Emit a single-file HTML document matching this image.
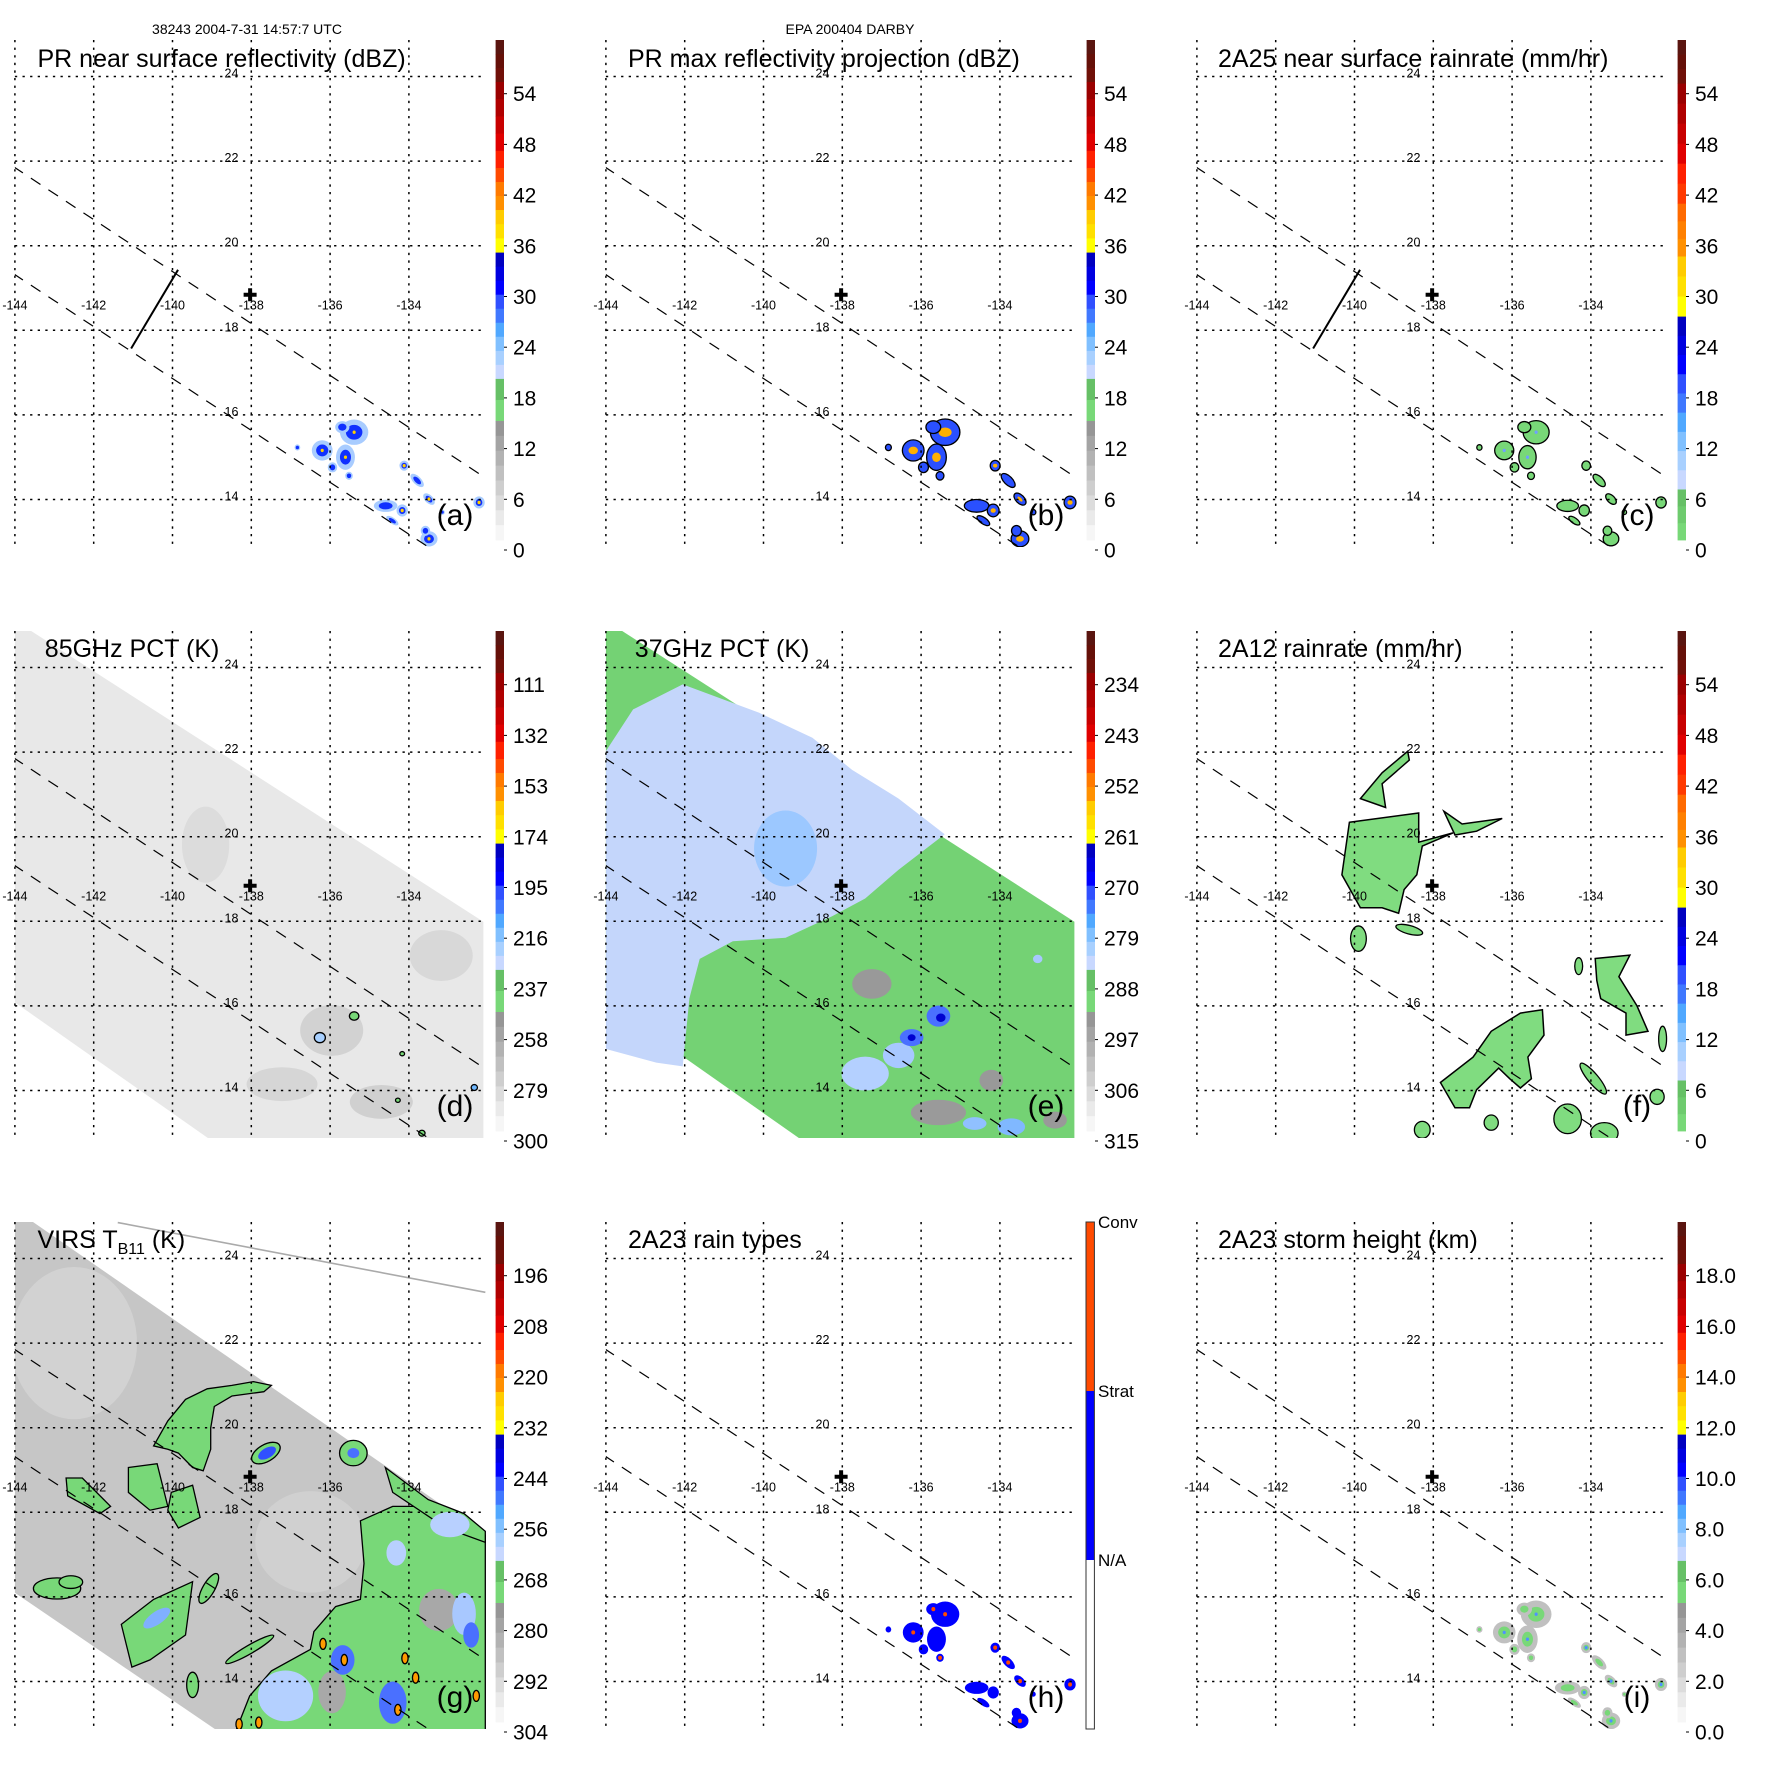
<!DOCTYPE html>
<html><head><meta charset="utf-8"><style>
html,body{margin:0;padding:0;background:#fff;}
svg{display:block;font-family:"Liberation Sans",sans-serif;}
</style></head><body>
<svg id="fig" xmlns="http://www.w3.org/2000/svg" width="1771" height="1771" viewBox="0 0 1771 1771">
<text x="247" y="34" font-size="14" text-anchor="middle">38243 2004-7-31 14:57:7 UTC</text>
<text x="850" y="34" font-size="14" text-anchor="middle">EPA 200404 DARBY</text>
</svg>
<script>
// ---------- data ----------
const gridLons = [-144,-142,-140,-138,-136,-134];
const gridLats = [24,22,20,18,16,14];
const lonTickLabels = ['-144','-142','-140','-138','-136','-134'];
const latTickLabels = ['24','22','20','18','16','14'];
const centerLon = -138.03, centerLat = 18.84;
const swathUpper = [[-144.04,21.87],[-132.04,14.5]];
const swathLower = [[-144.04,19.34],[-131.9,11.89]];
const crossSection = [[-139.86,19.43],[-141.05,17.57]];
const labelsDbz = ['0','6','12','18','24','30','36','42','48','54'];
const labels85 = ['300','279','258','237','216','195','174','153','132','111'];
const labels37 = ['315','306','297','288','279','270','261','252','243','234'];
const labelsVirs = ['304','292','280','268','256','244','232','220','208','196'];
const labelsHeight = ['0.0','2.0','4.0','6.0','8.0','10.0','12.0','14.0','16.0','18.0'];
const labelsType = ['Conv','Strat','N/A'];
// PR cluster positions (lon, lat, rx, ry in degrees, rotation)
const prLon = [-136.2,-135.39,-135.61,-135.69,-135.94,-135.52,-134.12,-133.79,-133.49,-134.59,-134.17,-133.49,-133.58,-132.22,-134.42,-136.83,-133.15];
const prLat = [15.16,15.59,15.0,15.71,14.76,14.56,14.8,14.45,14.01,13.85,13.74,13.07,13.26,13.93,13.5,15.23,13.7];
const prRx  = [0.22,0.3,0.2,0.15,0.1,0.08,0.1,0.18,0.15,0.25,0.12,0.18,0.1,0.12,0.15,0.06,0.05];
const prRy  = [0.2,0.25,0.25,0.12,0.1,0.08,0.1,0.08,0.08,0.12,0.12,0.15,0.1,0.12,0.06,0.06,0.05];
const prRot = [0,0,0,0,0,0,0,45,45,0,0,0,0,0,35,0,0];
const prCore = [1,1,1,0,0,0,1,0,1,0,1,1,0,1,0,0,0];
const prConv = [1,1,0,1,0,1,1,1,1,0,0,1,0,1,0,0,0];
// TMI and VIRS swath outlines
const tmiSwath = [[-144.07,24.9],[-143.65,24.9],[-132.11,17.99],[-132.11,12.6],[-138.68,12.6],[-144.07,16.13]];
const virsSwath = [[-144.02,24.9],[-143.6,24.9],[-132.06,17.46],[-132.06,12.6],[-138.49,12.6],[-144.02,16.11]];
const virsEdgeLine = [[-141.39,24.85],[-132.06,23.2]];
// panel (d) 85 GHz shading [lon,lat,rx,ry,color]
const pct85Shade = [[-135.96,15.42,0.8,0.6,'#d2d2d2'],[-133.18,17.19,0.8,0.6,'#d8d8d8'],[-139.16,19.81,0.6,0.9,'#dcdcdc'],[-134.7,13.73,0.8,0.4,'#d0d0d0'],[-137.22,14.15,0.9,0.4,'#d6d6d6']];
const pct85Cells = [[-136.26,15.25,0.14,0.12,'#a8d0ff'],[-135.39,15.76,0.12,0.1,'#78d878'],[-134.17,14.87,0.06,0.05,'#78d878'],[-134.28,13.77,0.06,0.05,'#78d878'],[-132.34,14.07,0.08,0.07,'#6fb8ff'],[-133.67,12.99,0.08,0.07,'#78d878']];
// panel (e) 37 GHz
const pct37Cool = [[-144.07,21.92],[-143.31,23.01],[-142.05,23.6],[-140.11,22.93],[-138.76,22.34],[-137.75,21.58],[-136.57,20.9],[-135.4,20.06],[-136.57,19.22],[-137.42,18.54],[-138.26,18.12],[-139.44,17.61],[-140.78,17.53],[-141.62,17.11],[-141.88,16.18],[-142.05,14.57],[-142.72,14.66],[-144.07,15.0]];
const pct37Spots = [[-139.44,19.72,0.8,0.9,'#9cc8ff'],[-137.25,16.52,0.5,0.35,'#999999'],[-135.56,13.48,0.7,0.3,'#9a9a9a'],[-134.22,14.24,0.3,0.25,'#999999'],[-132.6,13.3,0.3,0.2,'#999999'],[-137.42,14.4,0.6,0.4,'#b4d0ff'],[-136.57,14.83,0.4,0.3,'#a8c8ff'],[-135.56,15.76,0.3,0.25,'#4a70ff'],[-135.5,15.72,0.12,0.1,'#0000d0'],[-136.24,15.25,0.3,0.2,'#4a70ff'],[-136.24,15.25,0.1,0.08,'#0000d0'],[-133.71,13.14,0.35,0.2,'#80b8ff'],[-134.64,13.22,0.3,0.15,'#90c0ff'],[-133.04,17.11,0.12,0.1,'#a8c8ff']];
// panel (f) 2A12 rain polygons
const rain12Main = [[-140.13,20.34],[-138.37,20.56],[-138.37,19.87],[-137.5,20.09],[-138.28,19.78],[-138.42,19.1],[-138.74,18.75],[-138.88,18.19],[-139.3,18.32],[-139.85,18.32],[-140.32,19.1]];
const rain12Arm = [[-139.85,20.9],[-139.3,21.51],[-138.65,22.02],[-138.61,21.81],[-139.3,21.25],[-139.21,20.69]];
const rain12NE = [[-137.73,20.6],[-137.27,20.3],[-136.25,20.43],[-136.9,20.13],[-137.45,20.04]];
const rain12SE = [[-133.89,17.12],[-133.01,17.2],[-133.29,16.69],[-132.83,16.0],[-132.55,15.4],[-133.11,15.31],[-133.11,15.83],[-133.75,16.17],[-133.85,16.6]];
const rain12Mid = [[-137.82,14.19],[-136.99,14.79],[-136.53,15.4],[-135.79,15.83],[-135.23,15.91],[-135.19,15.31],[-135.6,14.79],[-135.51,14.28],[-135.79,14.06],[-136.06,14.28],[-136.34,14.53],[-136.9,14.02],[-137.08,13.59],[-137.45,13.59]];
const rain12Cells = [[-139.9,17.59,0.2,0.3,0],[-138.61,17.8,0.35,0.1,15],[-133.94,14.28,0.5,0.12,50],[-134.59,13.33,0.35,0.35,0],[-133.66,12.99,0.35,0.25,0],[-138.28,13.07,0.2,0.2,0],[-136.53,13.24,0.18,0.18,0],[-132.32,13.85,0.18,0.18,0],[-132.18,15.22,0.1,0.3,0],[-134.31,16.94,0.1,0.2,0]];
// panel (g) VIRS cold cloud polygons
const virsNW = [[-140.48,19.57],[-140.12,20.16],[-139.67,20.67],[-139.12,20.92],[-138.49,21.0],[-137.95,21.09],[-137.49,21.0],[-137.68,20.85],[-138.49,20.75],[-138.94,20.5],[-139.03,19.99],[-139.03,19.49],[-139.22,18.98],[-139.49,19.06],[-139.85,19.4],[-140.12,19.49]];
const virsMid = [[-141.12,19.06],[-140.39,19.15],[-140.12,18.14],[-140.57,18.05],[-141.12,18.47]];
const virsMid2 = [[-140.03,18.47],[-139.49,18.64],[-139.3,17.88],[-139.85,17.63],[-140.12,18.05]];
const virsWest = [[-142.7,18.81],[-142.29,18.81],[-141.57,18.14],[-141.84,17.97],[-142.66,18.39]];
const virsSW = [[-141.3,15.35],[-140.48,15.94],[-139.49,16.36],[-139.67,15.1],[-140.57,14.51],[-141.03,14.34]];
const virsEdge = [[-134.6,19.06],[-133.51,18.3],[-132.6,17.97],[-132.06,17.55],[-132.06,17.29],[-133.06,17.63],[-134.41,18.47]];
const virsSE = [[-135.23,17.8],[-134.41,18.14],[-133.51,18.14],[-132.06,17.46],[-132.06,12.6],[-138.49,12.6],[-138.04,13.66],[-137.49,14.25],[-136.5,14.76],[-136.41,15.18],[-135.86,15.77],[-135.23,15.94],[-135.14,16.79]];
const virsCells = [[-137.63,19.4,0.4,0.2,-30,'#78d878'],[-142.93,16.2,0.6,0.25,0,'#78d878'],[-139.08,16.2,0.15,0.4,30,'#78d878'],[-138.04,14.76,0.7,0.1,-30,'#78d878'],[-139.49,13.92,0.15,0.3,0,'#78d878'],[-135.41,19.4,0.35,0.3,0,'#78d878'],[-142.58,16.35,0.3,0.15,0,'#78d878']];
const virsInner = [[-137.6,19.4,0.25,0.12,-30,'#3050ff'],[-133.24,15.69,0.5,0.5,0,'#a8a8a8'],[-135.95,13.75,0.35,0.5,0,'#a8a8a8'],[-134.32,17.04,0.25,0.3,0,'#b8d0ff'],[-132.96,17.71,0.5,0.3,0,'#b8d0ff'],[-137.13,13.66,0.7,0.6,0,'#b4d0ff'],[-132.6,15.6,0.3,0.5,0,'#a8c8ff'],[-135.68,14.51,0.3,0.35,0,'#4a70ff'],[-134.41,13.5,0.35,0.5,0,'#4a70ff'],[-132.42,15.1,0.2,0.3,0,'#4a70ff'],[-140.4,15.5,0.4,0.15,-35,'#80b0ff'],[-135.41,19.4,0.15,0.12,0,'#4a70ff']];
const virsCold = [[-136.18,14.89],[-135.64,14.51],[-134.28,13.33],[-134.1,14.55],[-133.83,14.09],[-132.29,13.66],[-138.31,12.99],[-137.81,13.03],[-133.6,12.73]];

// ---------- geometry ----------
const PANEL = 591;
function lx(lon){ return 14.9 + (lon + 144) * 39.4; }
function ly(lat){ return 76.5 + (24 - lat) * 42.3; }
const PL = 14.9, PR = 486, PT = 40, PB = 547;
const NS = 'http://www.w3.org/2000/svg';
const svg = document.getElementById('fig');

function mk(tag, attrs, parent, name, inter){
  const el = document.createElementNS(NS, tag);
  for (const k in attrs) el.setAttribute(k, attrs[k]);
  
  
  parent.appendChild(el);
  return el;
}
function poly(pts){ return pts.map(p => lx(p[0]).toFixed(1)+','+ly(p[1]).toFixed(1)).join(' '); }
function ell(g, lon, lat, rx, ry, rot, fill, stroke, name){
  const cx = lx(lon), cy = ly(lat);
  const a = {cx: cx, cy: cy, rx: rx*39.4, ry: ry*42.3, fill: fill, transform: 'rotate(' + (rot||0) + ' ' + cx + ' ' + cy + ')'};
  if (stroke) { a.stroke = stroke; a['stroke-width'] = 1.3; }
  return mk('ellipse', a, g, name, false);
}

const STD_BAR = [[40,82,['#5a1510','#651008','#701008']],[82,168,['#9a0000','#b00000','#c80000','#e00000','#ff2000']],[168,210,['#ff4a00','#ff7a00','#ff9000']],[210,252.6,['#ffcc00','#ffe000','#ffff00']],[252.6,378.9,['#0000c0','#0000e0','#0000ff','#3050ff','#4078ff','#50a8ff','#80c0ff','#a8d0ff','#c8d8ff']],[378.9,421,['#66c066','#78d878']],[421,540,['#969696','#a4a4a4','#b2b2b2','#c0c0c0','#cecece','#dcdcdc','#eaeaea','#f6f6f6']]];
const RAIN_BAR = [[40,83.6,['#5a1510','#651008','#701008']],[83.6,203.7,['#9a0000','#b00000','#c80000','#e00000','#ff2000','#ff3a00']],[203.7,256.5,['#ff6a00','#ff8000','#ff9000']],[256.5,316.6,['#ffcc00','#ffe000','#ffff00']],[316.6,489.5,['#0000c0','#0000e0','#0000ff','#3050ff','#4078ff','#50a8ff','#80c0ff','#a8d0ff','#c8d8ff']],[489.5,540,['#66c066','#6ecb6e','#78d878']]];

function colorbar(g, type, labels){
  const bar = mk('g', {}, g, 'colorbar', false);
  if (type === 'type') {
    const segs = [[40,209,'#ff4a00'],[209,378,'#0000ff'],[378,547,'#ffffff']];
    segs.forEach(s => mk('rect', {x:495, y:s[0], width:8.4, height:s[1]-s[0], fill:s[2]}, bar, 'colorbar-segment', false));
    mk('rect', {x:495, y:40, width:8.4, height:507, fill:'none', stroke:'#333', 'stroke-width':1}, bar, 'colorbar-frame', false);
    const ys = [40, 209, 378];
    labels.forEach((t,i) => { const tx = mk('text', {x:507, y:ys[i]+6, 'font-size':17}, bar, 'colorbar-label', false); tx.textContent = t; });
    return;
  }
  const segs = type === 'rain' ? RAIN_BAR : STD_BAR;
  segs.forEach(s => {
    const h = (s[1]-s[0]) / s[2].length;
    s[2].forEach((c,i) => mk('rect', {x:495.6, y:s[0]+i*h, width:8.4, height:h+0.4, fill:c}, bar, 'colorbar-segment', false));
  });
  labels.forEach((t,i) => {
    const y = 550 - i*50.7;
    mk('line', {x1:504, x2:507, y1:y, y2:y, stroke:'#000', 'stroke-width':1}, bar, 'colorbar-tick', false);
    const tx = mk('text', {x:513, y:y+7.5, 'font-size':21}, bar, 'colorbar-label', false);
    tx.textContent = t;
  });
}

function basemap(g, swathCross){
  const grid = mk('g', {stroke:'#000', 'stroke-width':1.5, 'stroke-dasharray':'2.3 5.3'}, g, 'lat-lon-grid', false);
  gridLons.forEach(lon => mk('line', {x1:lx(lon), x2:lx(lon), y1:PT, y2:PB}, grid, 'meridian-line', false));
  gridLats.forEach(lat => mk('line', {x1:PL, x2:PR, y1:ly(lat), y2:ly(lat)}, grid, 'parallel-line', false));
  const sw = mk('g', {stroke:'#000', 'stroke-width':1.2, 'stroke-dasharray':'11.5 9.5', 'clip-path':'url(#plotclip)'}, g, 'pr-swath-edges', false);
  [swathUpper, swathLower].forEach(s => mk('line', {x1:lx(s[0][0]), y1:ly(s[0][1]), x2:lx(s[1][0]), y2:ly(s[1][1])}, sw, 'swath-edge-line', false));
  if (swathCross) mk('line', {x1:lx(crossSection[0][0]), y1:ly(crossSection[0][1]), x2:lx(crossSection[1][0]), y2:ly(crossSection[1][1]), stroke:'#000', 'stroke-width':2}, g, 'cross-section-line', false);
  lonTickLabels.forEach((t,i) => { const tx = mk('text', {x:lx(gridLons[i]), y:309.5, 'font-size':12.5, 'text-anchor':'middle'}, g, 'lon-tick-label', false); tx.textContent = t; });
  latTickLabels.forEach((t,i) => { const tx = mk('text', {x:231.5, y:ly(gridLats[i])+1, 'font-size':12.5, 'text-anchor':'middle'}, g, 'lat-tick-label', false); tx.textContent = t; });
  const cx = lx(centerLon), cy = ly(centerLat);
  mk('path', {d:'M'+(cx-6.5)+' '+(cy-2)+'h4.5v-4.5h4v4.5h4.5v4h-4.5v4.5h-4v-4.5h-4.5z', fill:'#000'}, g, 'storm-center-cross', false);
}

const defs = mk('defs', {}, svg, 'defs', false);
const cp = mk('clipPath', {id:'plotclip'}, defs, 'plot-clip', false);
mk('rect', {x:PL, y:PT, width:PR-PL, height:PB-PT}, cp, 'plot-clip-rect', false);

const panels = [
 {c:0,r:0,key:'a',title:'PR near surface reflectivity (dBZ)',tx:37.5,bar:'std',labels:labelsDbz,cross:true},
 {c:1,r:0,key:'b',title:'PR max reflectivity projection (dBZ)',tx:37,bar:'std',labels:labelsDbz,cross:false},
 {c:2,r:0,key:'c',title:'2A25 near surface rainrate (mm/hr)',tx:36,bar:'rain',labels:labelsDbz,cross:true},
 {c:0,r:1,key:'d',title:'85GHz PCT (K)',tx:44.8,bar:'std',labels:labels85,cross:false},
 {c:1,r:1,key:'e',title:'37GHz PCT (K)',tx:43.8,bar:'std',labels:labels37,cross:false},
 {c:2,r:1,key:'f',title:'2A12 rainrate (mm/hr)',tx:36,bar:'rain',labels:labelsDbz,cross:false},
 {c:0,r:2,key:'g',title:'VIRS',tx:37.5,bar:'std',labels:labelsVirs,cross:false},
 {c:1,r:2,key:'h',title:'2A23 rain types',tx:37,bar:'type',labels:labelsType,cross:false},
 {c:2,r:2,key:'i',title:'2A23 storm height (km)',tx:36,bar:'std',labels:labelsHeight,cross:false}
];

function drawData(p, g){
  const d = mk('g', {'clip-path':'url(#plotclip)'}, g, 'data-layer', false);
  const k = p.key;
  if (k === 'a' || k === 'b' || k === 'c' || k === 'h' || k === 'i') {
    prLon.forEach((lon,i) => {
      const lat = prLat[i], rx = prRx[i], ry = prRy[i], rot = prRot[i];
      if (k === 'a') {
        ell(d, lon, lat, rx*1.2, ry*1.2, rot, '#a8ccff', null, 'reflectivity-cell');
        ell(d, lon, lat, rx*0.7, ry*0.7, rot, '#1030ff', null, 'reflectivity-cell');
        if (prCore[i]) ell(d, lon, lat, 0.04, 0.04, 0, '#ffd000', null, 'reflectivity-core');
      } else if (k === 'b') {
        ell(d, lon, lat, rx*1.25, ry*1.25, rot, '#2a50ff', '#000', 'max-reflectivity-cell');
        if (prCore[i]) ell(d, lon, lat, rx*0.55, ry*0.45, rot, '#ffb000', null, 'max-reflectivity-core');
      } else if (k === 'c') {
        ell(d, lon, lat, rx*1.1, ry*1.1, rot, '#78d878', '#000', 'rainrate-cell');
        if (prCore[i] && i < 3) ell(d, lon, lat, 0.04, 0.04, 0, '#6fa0ff', null, 'rainrate-core');
      } else if (k === 'h') {
        ell(d, lon, lat, rx*1.2, ry*1.2, rot, '#0000ff', null, 'stratiform-cell');
        if (prConv[i]) ell(d, lon, lat, 0.05, 0.05, 0, '#ff4a00', null, 'convective-cell');
      } else {
        ell(d, lon, lat, rx*1.3, ry*1.3, rot, '#c0c0c0', null, 'storm-height-cell');
        ell(d, lon, lat, rx*0.7, ry*0.7, rot, '#78d878', null, 'storm-height-cell');
        if (prCore[i]) ell(d, lon, lat, 0.04, 0.04, 0, '#5090ff', null, 'storm-height-core');
      }
    });
  }
  if (k === 'd') {
    mk('polygon', {points:poly(tmiSwath), fill:'#e8e8e8'}, d, 'tmi-swath', false);
    pct85Shade.forEach(s => ell(d, s[0], s[1], s[2], s[3], 0, s[4], null, 'pct-shade'));
    pct85Cells.forEach(s => ell(d, s[0], s[1], s[2], s[3], 0, s[4], '#000', 'pct-cell'));
  }
  if (k === 'e') {
    mk('polygon', {points:poly(tmiSwath), fill:'#74d274'}, d, 'tmi-swath', false);
    mk('polygon', {points:poly(pct37Cool), fill:'#c4d6fb'}, d, 'warm-ocean-region', false);
    pct37Spots.forEach(s => ell(d, s[0], s[1], s[2], s[3], 0, s[4], null, 'pct-cell'));
  }
  if (k === 'f') {
    [rain12Main, rain12Arm, rain12NE, rain12SE, rain12Mid].forEach(pg => mk('polygon', {points:poly(pg), fill:'#80dc80', stroke:'#000', 'stroke-width':1.5}, d, 'rain-area', false));
    rain12Cells.forEach(s => ell(d, s[0], s[1], s[2], s[3], s[4], '#80dc80', '#000', 'rain-cell'));
  }
  if (k === 'g') {
    mk('polygon', {points:poly(virsSwath), fill:'#c6c6c6'}, d, 'virs-swath', false);
    ell(d, -142.5, 22.0, 1.6, 1.8, 0, '#d2d2d2', null, 'warm-cloud-free-area');
    ell(d, -136.5, 17.3, 1.4, 1.2, 0, '#d0d0d0', null, 'warm-cloud-free-area');
    [virsSE, virsNW, virsMid, virsMid2, virsWest, virsSW, virsEdge].forEach(pg => mk('polygon', {points:poly(pg), fill:'#78d878', stroke:'#000', 'stroke-width':1.3}, d, 'cold-cloud-area', false));
    virsCells.forEach(s => ell(d, s[0], s[1], s[2], s[3], s[4], s[5], '#000', 'cold-cloud-cell'));
    virsInner.forEach(s => ell(d, s[0], s[1], s[2], s[3], s[4], s[5], null, 'cloud-top-detail'));
    virsCold.forEach(s => ell(d, s[0], s[1], 0.08, 0.13, 0, '#ff9a00', '#000', 'very-cold-core'));
    mk('line', {x1:lx(virsEdgeLine[0][0]), y1:ly(virsEdgeLine[0][1]), x2:lx(virsEdgeLine[1][0]), y2:ly(virsEdgeLine[1][1]), stroke:'#aaa', 'stroke-width':1.6}, g, 'virs-orbit-line', false);
  }
}

panels.forEach(p => {
  const g = mk('g', {transform:'translate(' + (p.c*PANEL) + ',' + (p.r*PANEL) + ')'}, svg, 'panel-' + p.key, false);
  drawData(p, g);
  basemap(g, p.cross);
  colorbar(g, p.bar, p.labels);
  const t = mk('text', {x:p.tx, y:(p.r===0?67:66), 'font-size':25}, g, 'panel-title', false);
  if (p.key === 'g') {
    t.textContent = 'VIRS T';
    const sub = mk('tspan', {'font-size':16, dy:6}, t, 'title-subscript', false);
    sub.textContent = 'B11';
    const rest = mk('tspan', {dy:-6}, t, 'title-unit', false);
    rest.textContent = ' (K)';
  } else {
    t.textContent = p.title;
  }
  const L = mk('text', {x:455, y:525, 'font-size':30, 'text-anchor':'middle'}, g, 'panel-letter', false);
  L.textContent = '(' + p.key + ')';
});
</script>
</body></html>
